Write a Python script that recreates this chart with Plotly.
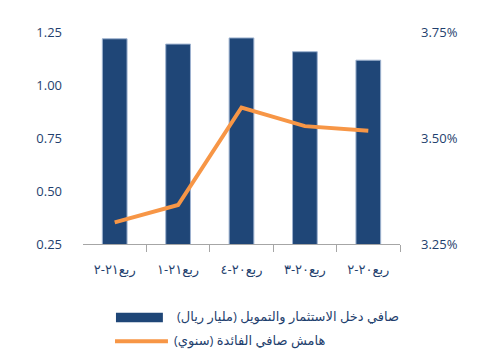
import plotly.graph_objects as go

# Data (chronological order; x axis drawn right-to-left)
quarters = ["ربع٢٠-٢", "ربع٢٠-٣", "ربع٢٠-٤", "ربع٢١-١", "ربع٢١-٢"]
net_income = [1.117, 1.157, 1.222, 1.193, 1.218]     # مليار ريال
net_margin = [3.517, 3.528, 3.572, 3.342, 3.301]     # %

bar_name = "صافي دخل الاستثمار والتمويل (مليار ريال)"
line_name = "هامش صافي الفائدة (سنوي)"

BAR_COLOR = "#1F4677"
LINE_COLOR = "#F79646"
TEXT_COLOR = "#1F3F6E"
FONT = "Open Sans, DejaVu Sans, sans-serif"

fig = go.Figure()
fig.add_trace(go.Bar(
    x=quarters, y=net_income, name=bar_name,
    marker=dict(color=BAR_COLOR, line=dict(color="#9DB2CF", width=1)),
    yaxis="y", showlegend=False,
))
fig.add_trace(go.Scatter(
    x=quarters, y=net_margin, name=line_name, mode="lines",
    line=dict(color=LINE_COLOR, width=4),
    yaxis="y2", showlegend=False,
))

fig.update_layout(
    width=479, height=342,
    margin=dict(l=75, r=87, t=24, b=106, autoexpand=False),
    paper_bgcolor="white", plot_bgcolor="white",
    font=dict(family=FONT, size=13, color=TEXT_COLOR),
    bargap=0.61,
    xaxis=dict(
        autorange="reversed", showgrid=False,
        showline=True, linecolor="#A6A6A6", linewidth=1,
        ticks="outside", tickson="boundaries", ticklen=7, tickcolor="#A6A6A6",
        tickangle=0, ticklabelstandoff=13,
        tickfont=dict(size=13, color=TEXT_COLOR),
    ),
    yaxis=dict(
        range=[0.25, 1.25], tickvals=[0.25, 0.5, 0.75, 1.0, 1.25],
        tickformat=".2f", showgrid=False, zeroline=False, showline=False,
        ticklabelstandoff=20,
        tickfont=dict(size=13, color=TEXT_COLOR),
    ),
    yaxis2=dict(
        overlaying="y", side="right",
        range=[3.25, 3.75], tickvals=[3.25, 3.5, 3.75],
        ticktext=["3.25%", "3.50%", "3.75%"],
        showgrid=False, zeroline=False, showline=False,
        ticklabelstandoff=20,
        tickfont=dict(size=13, color=TEXT_COLOR),
    ),
)

# Custom legend (swatches + labels) below the plot (paper coords: 0=y 235.5, 1=y 24 fig px)
def py(y_win):
    return (243.5 - y_win) / 211.5

fig.add_shape(type="rect", xref="paper", yref="paper",
              x0=0.104, x1=0.252, y0=py(321.5), y1=py(312),
              fillcolor=BAR_COLOR, line=dict(width=0))
fig.add_shape(type="line", xref="paper", yref="paper",
              x0=0.101, x1=0.268, y0=py(340.5), y1=py(340.5),
              line=dict(color=LINE_COLOR, width=4))
fig.add_annotation(xref="paper", yref="paper", x=0.290, y=py(315.7),
                   text=bar_name, showarrow=False, xanchor="left", yanchor="middle",
                   font=dict(size=13, color=TEXT_COLOR))
fig.add_annotation(xref="paper", yref="paper", x=0.281, y=py(339.5),
                   text=line_name, showarrow=False, xanchor="left", yanchor="middle",
                   font=dict(size=13, color=TEXT_COLOR))

fig.write_html("out.html")
